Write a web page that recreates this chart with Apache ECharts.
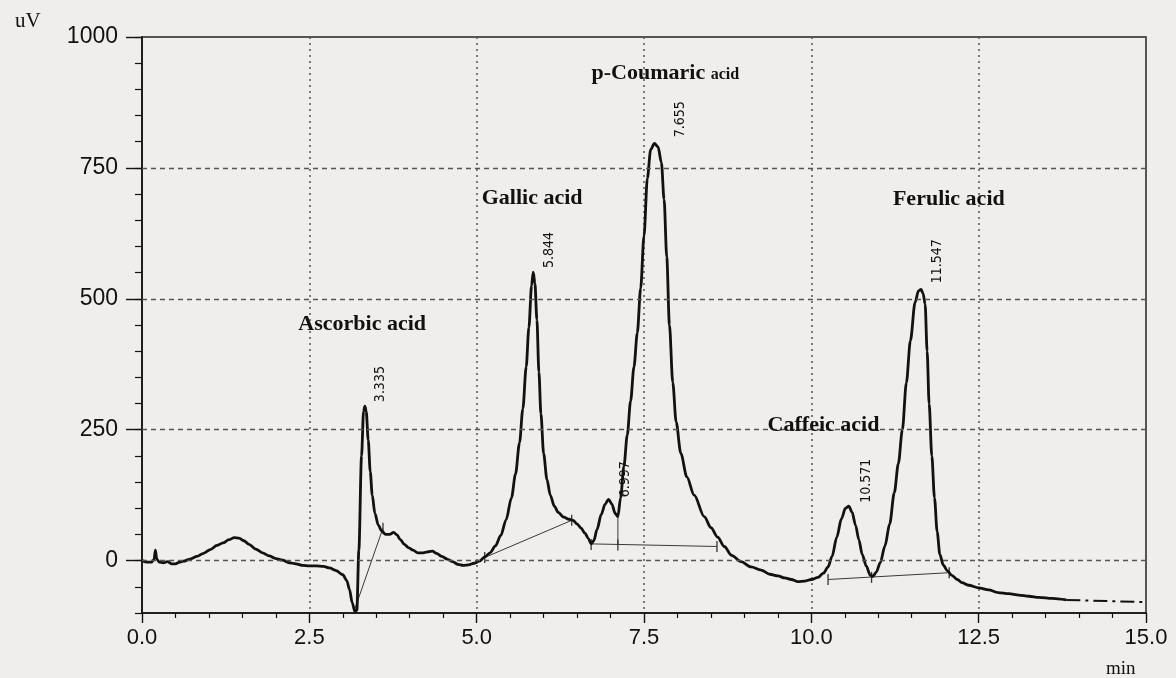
<!DOCTYPE html>
<html><head><meta charset="utf-8">
<script src="https://cdn.jsdelivr.net/npm/echarts@6/dist/echarts.min.js"></script>
<style>html,body{margin:0;padding:0;background:#f0eeec}#chart{width:1176px;height:678px}</style>
</head><body><div id="chart"></div>
<script>
// ---- data ----
const times = [0.00,0.08,0.14,0.18,0.20,0.22,0.26,0.32,0.38,0.44,0.50,0.56,0.62,0.72,0.82,0.92,1.02,1.12,1.21,1.30,1.38,1.45,1.52,1.60,1.70,1.80,1.90,2.00,2.10,2.20,2.30,2.40,2.50,2.60,2.71,2.80,2.90,3.00,3.06,3.10,3.14,3.18,3.21,3.24,3.28,3.31,3.33,3.35,3.38,3.41,3.44,3.48,3.53,3.58,3.64,3.70,3.76,3.81,3.86,3.92,3.98,4.05,4.12,4.20,4.28,4.34,4.40,4.48,4.56,4.64,4.72,4.80,4.88,4.96,5.04,5.12,5.20,5.28,5.36,5.44,5.52,5.58,5.64,5.69,5.74,5.78,5.82,5.845,5.87,5.90,5.93,5.96,6.00,6.05,6.10,6.16,6.22,6.30,6.38,6.44,6.50,6.56,6.62,6.67,6.71,6.75,6.80,6.86,6.92,6.97,7.02,7.07,7.11,7.15,7.20,7.25,7.30,7.35,7.40,7.45,7.50,7.55,7.60,7.655,7.71,7.76,7.80,7.84,7.88,7.93,7.98,8.05,8.14,8.25,8.40,8.50,8.60,8.70,8.81,8.95,9.10,9.25,9.38,9.50,9.60,9.70,9.80,9.90,10.00,10.10,10.18,10.25,10.31,10.38,10.45,10.51,10.56,10.61,10.66,10.71,10.76,10.82,10.88,10.92,10.97,11.03,11.10,11.17,11.24,11.30,11.36,11.42,11.48,11.55,11.60,11.64,11.67,11.70,11.73,11.76,11.80,11.84,11.88,11.92,11.97,12.03,12.10,12.18,12.25,12.35,12.50,12.65,12.79,12.95,13.10,13.25,13.40,13.60,13.81];
const signal = [0,-3,-3,2,20,3,-3,-4,-2,-6,-6,-3,-1,3,8,14,21,29,34,40,44,43,38,31,22,15,9,4,1,-4,-6,-9,-10,-10,-11,-14,-19,-27,-38,-55,-80,-97,-95,20,200,285,295,285,230,170,125,90,68,57,50,50,54,49,40,31,25,20,15,15,17,18,14,8,3,-2,-7,-9,-8,-5,-1,7,15,28,48,78,120,165,225,290,370,445,525,551,530,460,360,280,205,155,125,104,92,83,79,77,70,62,52,42,32,38,60,88,108,117,108,90,84,120,180,240,305,370,435,520,620,730,785,797,790,760,690,580,450,340,265,205,160,125,84,63,45,27,10,-2,-12,-18,-26,-29,-33,-36,-40,-39,-36,-32,-24,-12,8,45,80,100,104,92,68,40,12,-10,-28,-30,-22,-4,28,70,130,185,250,340,420,493,515,518,510,490,400,300,200,120,55,12,-8,-19,-28,-36,-42,-47,-52,-56,-61,-63,-66,-68,-70,-72,-75];
// dash-dot continuation after the recorded trace
const tailTimes = [13.81, 15.45];
const tailSignal = [-75, -81];

// integration baselines (start time, start uV, end time, end uV)
const baseStartT = [3.18, 5.12, 6.71, 7.11, 10.25];
const baseStartY = [-92, 6, 32, 84, -36];
const baseEndT   = [3.60, 6.42, 8.59, 7.11, 12.06];
const baseEndY   = [62, 77, 27, 30, -23];
// integration event marks
const markT = [3.60, 5.12, 6.42, 6.71, 7.11, 8.59, 10.25, 10.90, 12.06];
const markY = [62, 6, 77, 31, 30, 27, -36, -32, -23];

// peak annotations
const peakNames = ['Ascorbic acid', 'Gallic acid', 'p-Coumaric acid', 'Caffeic acid', 'Ferulic acid'];
const peakTimes = [3.335, 5.844, 7.655, 10.571, 11.547];
const peakHeights = [295, 551, 797, 103, 518];
const rtLabels = ['3.335', '5.844', '6.997', '7.655', '10.571', '11.547'];
const rtTimes = [3.335, 5.844, 6.997, 7.655, 10.571, 11.547];
const rtHeights = [295, 551, 117, 797, 103, 518];

// axes
const yTickValues = [0, 250, 500, 750, 1000];
const yGridValues = [0, 250, 500, 750];

// ---- layout (label offsets in px) ----
const nameOffsets = [[-3, -82], [-1, -74], [11, -70], [-26, -81], [34, -90]];
const rtOffsets = [[15, -22], [16, -22], [15, -20], [26, -24], [17, -26], [23, -28]];

const chart = echarts.init(document.getElementById('chart'));
const ink = '#111111';
const baselineSeries = baseStartT.map((t, i) => ({
  type: 'line', data: [[t, baseStartY[i]], [baseEndT[i], baseEndY[i]]],
  symbol: 'none', silent: true, z: 3,
  lineStyle: { color: '#3a3a3a', width: 1 }
}));
const labelItem = { color: 'transparent', opacity: 1 };

chart.setOption({
  backgroundColor: '#f0eeec',
  animation: false,
  title: [
    { text: 'uV', left: 10, top: 6, textStyle: { fontFamily: 'Liberation Serif', fontSize: 21, fontWeight: 'normal', color: ink } },
    { text: 'min', left: 1101, top: 655, textStyle: { fontFamily: 'Liberation Serif', fontSize: 19, fontWeight: 'normal', color: ink } }
  ],
  grid: { left: 142, right: 30, top: 37, bottom: 65, show: true, borderColor: '#222', borderWidth: 1.5, backgroundColor: 'transparent' },
  xAxis: {
    type: 'value', min: 0, max: 15, interval: 2.5,
    axisLine: { onZero: false, lineStyle: { color: ink, width: 1.6 } },
    axisTick: { show: true, length: 10, lineStyle: { color: ink, width: 1.4 } },
    minorTick: { show: true, splitNumber: 5, length: 5, lineStyle: { color: ink, width: 1.2 } },
    axisLabel: { margin: 14, fontFamily: 'Liberation Sans', fontSize: 22, color: ink, formatter: v => v.toFixed(1) },
    splitLine: { show: true, lineStyle: { type: [2, 4], color: '#555', width: 1.5 } }
  },
  yAxis: [
    {
      type: 'value', min: -100, max: 1000, interval: 50,
      axisLine: { show: true, onZero: false, lineStyle: { color: ink, width: 1.6 } },
      axisTick: { show: true, length: 16, customValues: yTickValues, lineStyle: { color: ink, width: 1.4 } },
      axisLabel: { margin: 24, fontFamily: 'Liberation Sans', fontSize: 23, color: ink, customValues: yTickValues,
        formatter: v => (v >= 0 && v % 250 === 0) ? String(v) : '' },
      splitLine: { show: false }
    },
    {
      type: 'value', min: -100, max: 1000, interval: 50, position: 'left',
      axisLine: { show: false, onZero: false },
      axisTick: { show: true, length: 7, lineStyle: { color: ink, width: 1.2 } },
      axisLabel: { show: false },
      splitLine: { show: false }
    }
  ],
  series: [
    {
      type: 'line', name: 'signal', data: times.map((t, i) => [t, signal[i]]),
      symbol: 'none', smooth: 0.3, smoothMonotone: 'x', z: 4,
      lineStyle: { color: ink, width: 2.8 },
      markLine: {
        silent: true, symbol: 'none', label: { show: false },
        lineStyle: { type: [5, 4], color: '#555', width: 1.3 },
        data: yGridValues.map(v => ({ yAxis: v }))
      }
    },
    {
      type: 'line', name: 'tail', data: tailTimes.map((t, i) => [t, tailSignal[i]]),
      symbol: 'none', clip: false, z: 4,
      lineStyle: { color: ink, width: 2, type: [14, 5, 3, 5] }
    },
    ...baselineSeries,
    {
      type: 'scatter', name: 'marks', data: markT.map((t, i) => [t, markY[i]]),
      symbol: 'rect', symbolSize: [1.3, 11], silent: true, z: 3,
      itemStyle: { color: '#333', opacity: 1 }
    },
    {
      type: 'scatter', name: 'names', silent: true, z: 6,
      symbolSize: 0.1, itemStyle: labelItem,
      data: peakNames.map((n, i) => ({
        value: [peakTimes[i], peakHeights[i]], name: n,
        label: { position: nameOffsets[i] }
      })),
      label: {
        show: true, align: 'center', verticalAlign: 'middle', opacity: 1, textBorderWidth: 0,
        fontFamily: 'Liberation Serif', fontWeight: 'bold', fontSize: 22, color: ink,
        formatter: p => {
          const n = p.name;
          if (n.indexOf('p-') === 0) {
            const k = n.lastIndexOf(' ');
            return '{a|' + n.slice(0, k) + '} {b|' + n.slice(k + 1) + '}';
          }
          return n;
        },
        rich: {
          a: { fontFamily: 'Liberation Serif', fontWeight: 'bold', fontSize: 22, color: ink },
          b: { fontFamily: 'Liberation Serif', fontWeight: 'bold', fontSize: 16, color: ink, padding: [4, 0, 0, 0] }
        }
      }
    },
    {
      type: 'scatter', name: 'rt', silent: true, z: 6,
      symbolSize: 0.1, itemStyle: labelItem,
      data: rtLabels.map((n, i) => ({
        value: [rtTimes[i], rtHeights[i]], name: n,
        label: { position: rtOffsets[i] }
      })),
      label: {
        show: true, rotate: 90, align: 'center', verticalAlign: 'middle', opacity: 1, textBorderWidth: 0,
        fontFamily: 'DejaVu Sans Condensed', fontSize: 14, color: ink,
        formatter: p => p.name
      }
    }
  ]
});
</script>
</body></html>
